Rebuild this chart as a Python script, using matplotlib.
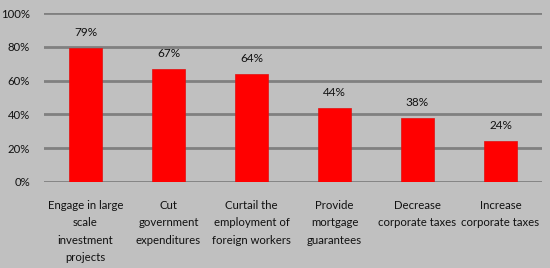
import matplotlib.pyplot as plt
from matplotlib.ticker import PercentFormatter

categories = ['Engage in large\nscale\ninvestment\nprojects',
              'Cut\ngovernment\nexpenditures',
              'Curtail the\nemployment of\nforeign workers',
              'Provide\nmortgage\nguarantees',
              'Decrease\ncorporate taxes',
              'Increase\ncorporate taxes']
values = [79, 67, 64, 44, 38, 24]

plt.rcParams['font.family'] = ['Lato', 'DejaVu Sans']

fig = plt.figure(figsize=(5.5, 2.68), dpi=100, facecolor='#c0c0c0')
ax = fig.add_axes([44 / 550, 1 - 182 / 268, 498 / 550, 169 / 268])
ax.set_facecolor('#c0c0c0')

x = range(len(values))
ax.bar(x, values, width=0.4, color='#ff0000', edgecolor='#e01010', linewidth=0.5, zorder=3)
for xi, v in zip(x, values):
    ax.text(xi, v + 6, f'{v}%', ha='center', va='bottom', fontsize=8.5, color='#111111')

ax.set_ylim(0, 100)
ax.set_xlim(-0.5, len(values) - 0.5)
ax.set_yticks(range(0, 101, 20))
ax.yaxis.set_major_formatter(PercentFormatter(decimals=0))
ax.set_xticks(list(x))
ax.set_xticklabels(categories, fontsize=8.2, linespacing=1.7, va='top')
ax.tick_params(axis='both', length=0, colors='#111111')
ax.tick_params(axis='y', labelsize=8.2, pad=10)
ax.tick_params(axis='x', pad=13)
ax.grid(axis='y', color='#808080', linewidth=2, zorder=0)
for s in ax.spines.values():
    s.set_visible(False)

fig.savefig('out.png', dpi=100, facecolor=fig.get_facecolor())
